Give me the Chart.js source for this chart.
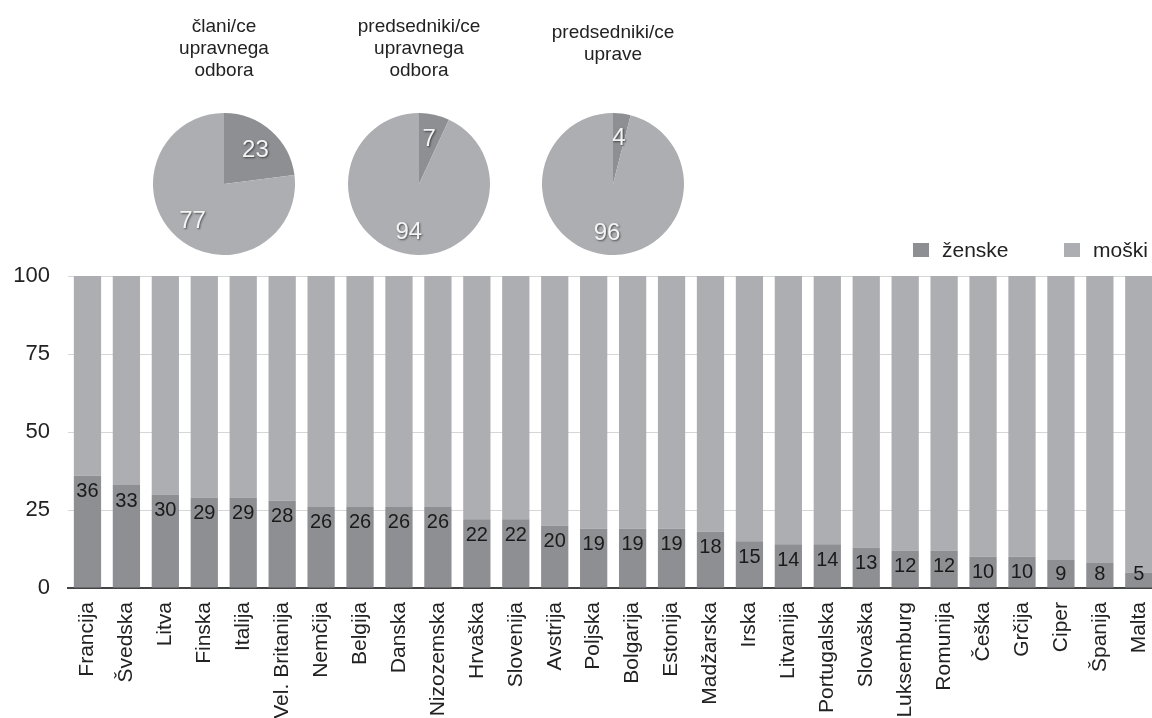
<!DOCTYPE html>
<html>
<head>
<meta charset="utf-8">
<script src="https://cdn.jsdelivr.net/npm/chart.js@4/dist/chart.umd.min.js"></script>
<style>
  html, body { margin:0; padding:0; background:#fff; overflow:hidden; width:1152px; height:718px; }
  body { position:relative; font-family:"Liberation Sans", Arial, sans-serif; color:#222; }
  .ptitle { position:absolute; width:220px; text-align:center; font-size:19px; line-height:22px; color:#222; }
  .pie { position:absolute; }
  #barWrap { position:absolute; left:0; top:0; width:1170px; height:718px; }
  .leg { position:absolute; top:240px; font-size:21px; line-height:20px; color:#222; display:flex; align-items:center; }
  .leg span.sw { display:inline-block; width:16px; height:14px; margin-right:13px; }
</style>
</head>
<body>
<div id="barWrap"><canvas id="bar" width="1170" height="718"></canvas></div>

<div class="ptitle" style="left:114px; top:15px;">člani/ce<br>upravnega<br>odbora</div>
<div class="ptitle" style="left:309px; top:15px;">predsedniki/ce<br>upravnega<br>odbora</div>
<div class="ptitle" style="left:503px; top:21px;">predsedniki/ce<br>uprave</div>

<canvas class="pie" id="pie1" width="142" height="142" style="left:153px; top:113px;"></canvas>
<canvas class="pie" id="pie2" width="142" height="142" style="left:348px; top:113px;"></canvas>
<canvas class="pie" id="pie3" width="142" height="142" style="left:542px; top:113px;"></canvas>

<div class="leg" style="left:913px;"><span class="sw" style="background:#8d8f93"></span>ženske</div>
<div class="leg" style="left:1064px;"><span class="sw" style="background:#adaeb2"></span>moški</div>

<script>
// ---- data ----
const countries = ["Francija","Švedska","Litva","Finska","Italija","Vel. Britanija","Nemčija","Belgija","Danska","Nizozemska","Hrvaška","Slovenija","Avstrija","Poljska","Bolgarija","Estonija","Madžarska","Irska","Litvanija","Portugalska","Slovaška","Luksemburg","Romunija","Češka","Grčija","Ciper","Španija","Malta"];
const women = [36,33,30,29,29,28,26,26,26,26,22,22,20,19,19,19,18,15,14,14,13,12,12,10,10,9,8,5];
const men = [64,67,70,71,71,72,74,74,74,74,78,78,80,81,81,81,82,85,86,86,87,88,88,90,90,91,92,95];
const seriesNames = ["ženske","moški"];
const yTicks = [0,25,50,75,100];

const pieTitles = ["člani/ce upravnega odbora","predsedniki/ce upravnega odbora","predsedniki/ce uprave"];
const pieWomen = [23,7,4];
const pieMen = [77,94,96];

const COL_W = '#8d8f93';
const COL_M = '#adaeb2';
const FONT = '"Liberation Sans", Arial, sans-serif';

// ---- bar value labels ----
const barLabels = {
  id:'barLabels',
  afterDatasetsDraw(chart){
    const ctx = chart.ctx;
    const meta = chart.getDatasetMeta(0);
    ctx.save();
    ctx.font = '20px ' + FONT;
    ctx.fillStyle = '#1a1a1a';
    ctx.textAlign = 'center';
    ctx.textBaseline = 'middle';
    meta.data.forEach((el,i)=>{
      const p = el.getProps(['x','y','base'], true);
      const y = Math.min(p.y + 16, p.base - 13);
      ctx.fillText(String(women[i]), p.x, y);
    });
    ctx.restore();
  }
};

new Chart(document.getElementById('bar'), {
  type:'bar',
  data:{
    labels: countries,
    datasets:[
      {label:seriesNames[0], data:women, backgroundColor:COL_W, borderWidth:0, stack:'s'},
      {label:seriesNames[1], data:men, backgroundColor:COL_M, borderWidth:0, stack:'s'}
    ]
  },
  options:{
    responsive:false,
    animation:false,
    layout:{padding:{top:276, left:0, right:0, bottom:0}},
    datasets:{bar:{categoryPercentage:1.0, barPercentage:0.7}},
    plugins:{legend:{display:false}, tooltip:{enabled:false}},
    scales:{
      x:{
        stacked:true,
        z:1,
        grid:{display:false},
        border:{display:true, color:'#444', width:2},
        ticks:{color:'#222', font:{family:FONT, size:21}, minRotation:90, maxRotation:90, autoSkip:false, padding:6},
        afterFit(scale){ scale.height = 130; }
      },
      y:{
        stacked:true,
        min:0, max:100,
        afterBuildTicks(scale){ scale.ticks = yTicks.map(v=>({value:v})); },
        grid:{color:'#d6d6d6', drawTicks:false, lineWidth:1},
        border:{display:false},
        ticks:{color:'#222', font:{family:FONT, size:22}, padding:18},
        afterFit(scale){ scale.width = 68; }
      }
    }
  },
  plugins:[barLabels]
});

// ---- pies ----
const pieLabels = {
  id:'pieLabels',
  afterDatasetsDraw(chart){
    const ctx = chart.ctx;
    const meta = chart.getDatasetMeta(0);
    const vals = chart.data.datasets[0].data;
    ctx.save();
    ctx.font = '24px ' + FONT;
    ctx.fillStyle = '#f4f4f4';
    ctx.textAlign = 'center';
    ctx.textBaseline = 'middle';
    ctx.shadowColor = 'rgba(0,0,0,0.55)';
    ctx.shadowOffsetX = 1; ctx.shadowOffsetY = 1; ctx.shadowBlur = 2;
    meta.data.forEach((arc,i)=>{
      const p = arc.getProps(['x','y','startAngle','endAngle','outerRadius'], true);
      const mid = (p.startAngle + p.endAngle)/2;
      const r = p.outerRadius * 0.67;
      ctx.fillText(String(vals[i]), p.x + Math.cos(mid)*r, p.y + Math.sin(mid)*r + 2);
    });
    ctx.restore();
  }
};

['pie1','pie2','pie3'].forEach((id,k)=>{
  new Chart(document.getElementById(id), {
    type:'pie',
    data:{
      labels: seriesNames,
      datasets:[{data:[pieWomen[k], pieMen[k]], backgroundColor:[COL_W, COL_M], borderWidth:0}]
    },
    options:{
      responsive:false,
      animation:false,
      layout:{padding:0},
      plugins:{legend:{display:false}, tooltip:{enabled:false}, title:{display:false, text:pieTitles[k]}}
    },
    plugins:[pieLabels]
  });
});
</script>
</body>
</html>
